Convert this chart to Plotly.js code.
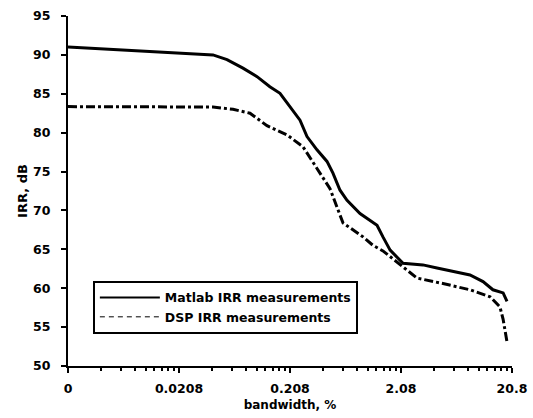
<!DOCTYPE html>
<html>
<head>
<meta charset="utf-8">
<script src="https://cdn.plot.ly/plotly-3.0.1.min.js"></script>
<style>html,body{margin:0;padding:0;background:#fff;}#chart{width:533px;height:418px;}</style>
</head>
<body>
<div id="chart"></div>
<script>
// Bandwidth (%) and IRR (dB)
const matlabX = [0.00208, 0.00404, 0.00926, 0.0212, 0.0421, 0.0563, 0.0784, 0.105, 0.137, 0.169, 0.221, 0.256, 0.296, 0.364, 0.448, 0.507, 0.587, 0.679, 0.889, 1.265, 1.43, 1.66, 2.17, 3.28, 4.39, 6.65, 8.70, 11.4, 14.0, 17.3, 18.75];
const matlabY = [91.0, 90.8, 90.5, 90.25, 90.0, 89.4, 88.3, 87.2, 85.9, 85.06, 82.9, 81.6, 79.5, 77.8, 76.3, 74.8, 72.6, 71.3, 69.6, 68.1, 66.6, 64.9, 63.2, 63.0, 62.6, 62.1, 61.7, 60.85, 59.8, 59.4, 58.3];

const dspX = [0.00208, 0.0421, 0.0638, 0.0907, 0.129, 0.196, 0.272, 0.296, 0.364, 0.477, 0.551, 0.624, 0.946, 1.165, 1.43, 2.17, 2.90, 4.97, 8.70, 13.2, 16.2, 17.3, 18.0, 18.75];
const dspY = [83.35, 83.3, 83.0, 82.5, 80.9, 79.7, 78.2, 77.35, 75.4, 72.8, 70.5, 68.4, 66.6, 65.5, 64.8, 62.8, 61.3, 60.6, 59.8, 58.9, 57.6, 56.0, 54.6, 53.1];

const xTickVals = [0.00208, 0.0208, 0.208, 2.08, 20.8];
const xTickText = ['0', '0.0208', '0.208', '2.08', '20.8'];
const seriesNames = ['Matlab IRR measurements', 'DSP IRR measurements'];

const minorVals = [];
xTickVals.slice(0, -1).forEach(b => { for (let k = 2; k <= 9; k++) minorVals.push(b * k); });

const font = {family: 'DejaVu Sans, Verdana, sans-serif', color: '#000', weight: 'bold'};

const traces = [
  {x: matlabX, y: matlabY, mode: 'lines', line: {color: '#000', width: 3}, showlegend: false, hoverinfo: 'skip'},
  {x: dspX, y: dspY, mode: 'lines', line: {color: '#000', width: 3, dash: 'dashdot'}, showlegend: false, hoverinfo: 'skip'},
  {x: [null], y: [null], mode: 'lines', name: seriesNames[0], line: {color: '#000', width: 2}},
  {x: [null], y: [null], mode: 'lines', name: seriesNames[1], line: {color: '#000', width: 1, dash: '5px,4px'}}
];

const layout = {
  width: 533, height: 418,
  margin: {l: 68, r: 21, t: 16, b: 52, pad: 0},
  paper_bgcolor: '#fff', plot_bgcolor: '#fff',
  font: Object.assign({size: 12.5}, font),
  xaxis: {
    type: 'log',
    range: [Math.log10(0.00208), Math.log10(20.8)],
    tickmode: 'array', tickvals: xTickVals, ticktext: xTickText,
    ticks: 'outside', ticklen: 5, tickwidth: 2, tickcolor: '#000',
    ticklabelstandoff: 5,
    showline: true, linewidth: 2, linecolor: '#000',
    showgrid: false, zeroline: false,
    minor: {tickmode: 'array', tickvals: minorVals, ticks: 'outside', ticklen: 3, tickwidth: 2, tickcolor: '#000', showgrid: false},
    tickfont: Object.assign({size: 12.5}, font),
    title: {text: 'bandwidth, %', font: Object.assign({size: 12}, font), standoff: 6}
  },
  yaxis: {
    range: [50, 95], tick0: 50, dtick: 5,
    ticks: 'outside', ticklen: 5, tickwidth: 2, tickcolor: '#000',
    ticklabelstandoff: 8,
    showline: true, linewidth: 2, linecolor: '#000',
    showgrid: false, zeroline: false,
    tickfont: Object.assign({size: 12.5}, font),
    title: {text: 'IRR, dB', font: Object.assign({size: 13}, font), standoff: 3}
  },
  legend: {
    x: 0.056, y: 0.243, xanchor: 'left', yanchor: 'top',
    bgcolor: '#fff', bordercolor: '#000', borderwidth: 2,
    font: Object.assign({size: 12.5}, font),
    itemwidth: 60
  },
  showlegend: true
};

Plotly.newPlot('chart', traces, layout, {staticPlot: true, displayModeBar: false});
</script>
</body>
</html>
